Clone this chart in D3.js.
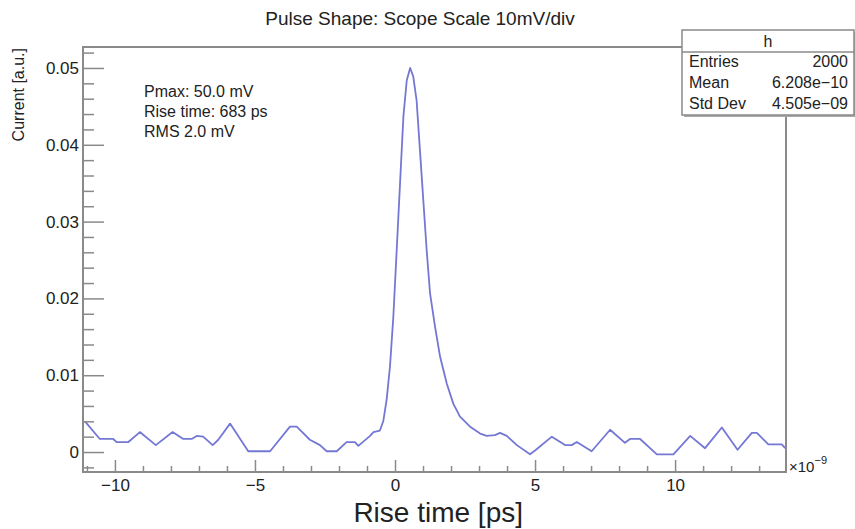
<!DOCTYPE html>
<html>
<head>
<meta charset="utf-8">
<script src="https://cdn.jsdelivr.net/npm/d3@7"></script>
<style>
  body { margin: 0; background: #fff; }
  text { font-family: "Liberation Sans", Arial, sans-serif; fill: #222; }
</style>
</head>
<body>
<svg id="viz"></svg>
<script>
const CANVAS_WIDTH = 855
const CANVAS_HEIGHT = 529

// time in units of 1e-9, current in a.u.
const TIMES = [
  -11.07, -10.54, -10.06, -9.94, -9.52, -9.11, -8.54, -7.94, -7.56, -7.26,
  -7.08, -6.85, -6.51, -6.31, -5.89, -5.24, -4.46, -3.75, -3.51, -3.04,
  -2.68, -2.44, -2.08, -1.73, -1.43, -1.31, -0.89, -0.77, -0.54, -0.42,
  -0.30, -0.18, -0.06, 0.06, 0.18, 0.30, 0.42, 0.54, 0.65, 0.77,
  0.89, 1.01, 1.13, 1.25, 1.43, 1.61, 1.85, 2.08, 2.32, 2.68,
  3.04, 3.27, 3.57, 3.75, 3.99, 4.35, 4.82, 5.00, 5.60, 6.07,
  6.31, 6.49, 7.02, 7.68, 8.21, 8.39, 8.75, 9.35, 9.94, 10.54,
  11.07, 11.67, 12.23, 12.74, 12.92, 13.33, 13.81, 13.93
]
const CURRENT = [
  0.0040, 0.0017, 0.0017, 0.0013, 0.0013, 0.0026, 0.0009, 0.0026, 0.0017, 0.0017,
  0.0021, 0.0020, 0.0009, 0.0016, 0.0037, 0.0001, 0.0001, 0.0033, 0.0033, 0.0016,
  0.0009, 0.0001, 0.0001, 0.0013, 0.0013, 0.0008, 0.0021, 0.0026, 0.0028, 0.0040,
  0.0068, 0.0111, 0.0176, 0.0263, 0.0350, 0.0437, 0.0484, 0.0500, 0.0489, 0.0458,
  0.0393, 0.0328, 0.0263, 0.0207, 0.0163, 0.0124, 0.0089, 0.0063, 0.0046, 0.0033,
  0.0024, 0.0021, 0.0022, 0.0025, 0.0021, 0.0009, -0.0003, 0.0002, 0.0020, 0.0009,
  0.0009, 0.0013, 0.0001, 0.0029, 0.0012, 0.0017, 0.0017, -0.0003, -0.0003, 0.0021,
  0.0005, 0.0032, 0.0003, 0.0025, 0.0025, 0.0010, 0.0010, 0.0005
]

const X_TICKS = [-10, -5, 0, 5, 10]
const Y_TICKS = [0, 0.01, 0.02, 0.03, 0.04, 0.05]

const TITLE = 'Pulse Shape: Scope Scale 10mV/div'
const X_TITLE = 'Rise time [ps]'
const Y_TITLE = 'Current [a.u.]'
const NOTES = ['Pmax: 50.0 mV', 'Rise time: 683 ps', 'RMS 2.0 mV']
const STATS_NAME = 'h'
const STATS = [['Entries', '2000'], ['Mean', '6.208e\u221210'], ['Std Dev', '4.505e\u221209']]

const FRAME = { left: 83, right: 786, top: 47, bottom: 472 }
const AXIS_COLOR = '#8a8a8a'
const LINE_COLOR = '#7478d4'

const x = d3.scaleLinear().domain([-11.14, 13.96]).range([FRAME.left, FRAME.right])
const y = d3.scaleLinear().domain([-0.0026, 0.05273]).range([FRAME.bottom, FRAME.top])

const svg = d3.select('#viz')
  .attr('width', CANVAS_WIDTH)
  .attr('height', CANVAS_HEIGHT)

// curve
const points = TIMES.map((t, i) => ({ t, v: CURRENT[i] }))
svg.append('path')
  .datum(points)
  .attr('d', d3.line().x(d => x(d.t)).y(d => y(d.v)))
  .style('fill', 'none')
  .style('stroke', LINE_COLOR)
  .style('stroke-width', 1.8)
  .style('stroke-linejoin', 'round')

// frame
svg.append('rect')
  .attr('x', FRAME.left).attr('y', FRAME.top)
  .attr('width', FRAME.right - FRAME.left)
  .attr('height', FRAME.bottom - FRAME.top)
  .style('fill', 'none')
  .style('stroke', AXIS_COLOR)
  .style('stroke-width', 2)

// x axis: ticks point up into the frame
const xAxis = d3.axisTop(x)
  .tickValues(X_TICKS)
  .tickSize(12)
  .tickFormat(d3.format('d'))
const xMinor = d3.axisTop(x)
  .tickValues(d3.range(-11, 14).filter(v => !X_TICKS.includes(v)))
  .tickSize(6)
  .tickFormat('')

svg.append('g').attr('transform', `translate(0,${FRAME.bottom})`).call(xMinor)
const gx = svg.append('g').attr('transform', `translate(0,${FRAME.bottom})`).call(xAxis)
gx.selectAll('.tick text')
  .attr('y', 19)
  .attr('dy', 0)
  .style('font-size', '17px')
  .style('font-family', '"Liberation Sans", Arial, sans-serif')

// y axis: ticks point right into the frame
const yAxis = d3.axisRight(y)
  .tickValues(Y_TICKS)
  .tickSize(21)
  .tickFormat(d => d === 0 ? '0' : d3.format('.2f')(d))
const yMinor = d3.axisRight(y)
  .tickValues(d3.range(-1, 27).map(i => i * 0.002).filter(v => Math.round(v * 1000) % 10 !== 0))
  .tickSize(11)
  .tickFormat('')

svg.append('g').attr('transform', `translate(${FRAME.left},0)`).call(yMinor)
const gy = svg.append('g').attr('transform', `translate(${FRAME.left},0)`).call(yAxis)
gy.selectAll('.tick text')
  .attr('x', -4)
  .attr('text-anchor', 'end')
  .style('font-size', '17px')
  .style('font-family', '"Liberation Sans", Arial, sans-serif')

svg.selectAll('.domain').remove()
svg.selectAll('.tick line').style('stroke', AXIS_COLOR).style('stroke-width', 1.5)
svg.selectAll('.tick text').style('fill', '#222')

// exponent label
const expo = svg.append('text')
  .attr('x', FRAME.right + 3)
  .attr('y', FRAME.bottom)
  .style('font-size', '15px')
expo.append('tspan').text('\u00d710')
expo.append('tspan').attr('dy', -8).style('font-size', '11px').text('\u22129')

// titles
svg.append('text')
  .attr('x', 420).attr('y', 25)
  .attr('text-anchor', 'middle')
  .style('font-size', '19px')
  .text(TITLE)

svg.append('text')
  .attr('x', 523).attr('y', 522)
  .attr('text-anchor', 'end')
  .style('font-size', '28px')
  .text(X_TITLE)

svg.append('text')
  .attr('transform', 'translate(24,48) rotate(-90)')
  .attr('text-anchor', 'end')
  .style('font-size', '16px')
  .text(Y_TITLE)

// annotation text
svg.append('g').selectAll('text')
  .data(NOTES)
  .enter().append('text')
    .attr('x', 144)
    .attr('y', (d, i) => 97 + i * 20)
    .style('font-size', '16px')
    .text(d => d)

// stats box
const box = { x: 682, y: 30, w: 172, h: 85, header: 22, row: 21 }
const stats = svg.append('g')
stats.append('rect')
  .attr('x', box.x + 2).attr('y', box.y + 2)
  .attr('width', box.w).attr('height', box.h)
  .style('fill', '#aaa')
stats.append('rect')
  .attr('x', box.x).attr('y', box.y)
  .attr('width', box.w).attr('height', box.h)
  .style('fill', '#fff')
  .style('stroke', AXIS_COLOR)
  .style('stroke-width', 1.5)
stats.append('line')
  .attr('x1', box.x).attr('x2', box.x + box.w)
  .attr('y1', box.y + box.header).attr('y2', box.y + box.header)
  .style('stroke', AXIS_COLOR)
  .style('stroke-width', 1.5)
stats.append('text')
  .attr('x', box.x + box.w / 2).attr('y', box.y + 17)
  .attr('text-anchor', 'middle')
  .style('font-size', '16px')
  .text(STATS_NAME)
stats.selectAll('text.key')
  .data(STATS)
  .enter().append('text')
    .attr('class', 'key')
    .attr('x', box.x + 7)
    .attr('y', (d, i) => box.y + 37 + i * box.row)
    .style('font-size', '16px')
    .text(d => d[0])
stats.selectAll('text.val')
  .data(STATS)
  .enter().append('text')
    .attr('class', 'val')
    .attr('x', box.x + box.w - 6)
    .attr('y', (d, i) => box.y + 37 + i * box.row)
    .attr('text-anchor', 'end')
    .style('font-size', '16px')
    .text(d => d[1])
</script>
</body>
</html>
